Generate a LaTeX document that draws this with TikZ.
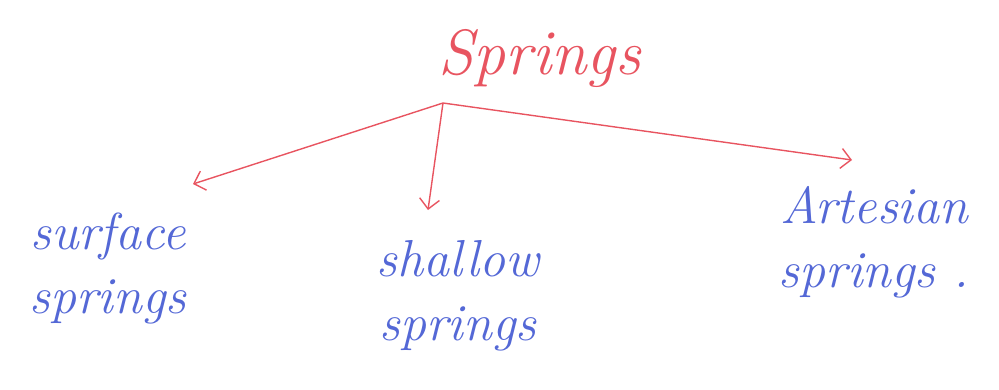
\documentclass[tikz,border=0pt]{standalone}
\usetikzlibrary{arrows.meta}
\definecolor{penred}{RGB}{232,84,96}
\definecolor{penblue}{RGB}{84,104,214}
\begin{document}
\begin{tikzpicture}[x=1pt,y=-1pt,
  redtxt/.style={text=penred,font=\fontsize{64}{68}\selectfont\itshape,inner sep=0pt},
  bluetxt/.style={text=penblue,font=\fontsize{52}{64}\selectfont\itshape,inner sep=0pt,align=center},
  pen/.style={draw=penred,line width=1.4pt,-{Straight Barb[length=10pt,width=20pt,line width=1.4pt]}}]
\useasboundingbox (0,0) rectangle (999,389);
\node[redtxt] (title) at (540,58) {Springs};
\coordinate (o) at (443,103);
\coordinate (l) at (193,184);
\coordinate (d) at (428,210);
\coordinate (r) at (852,160);
\draw[pen] (o) -- (l);
\draw[pen] (o) -- (d);
\draw[pen] (o) -- (r);
\node[bluetxt] (surface) at (108,268) {surface\\springs};
\node[bluetxt] (shallow) at (458,296) {shallow\\springs};
\node[bluetxt] (artesian) at (874,242) {Artesian\\springs .};
\end{tikzpicture}
\end{document}
